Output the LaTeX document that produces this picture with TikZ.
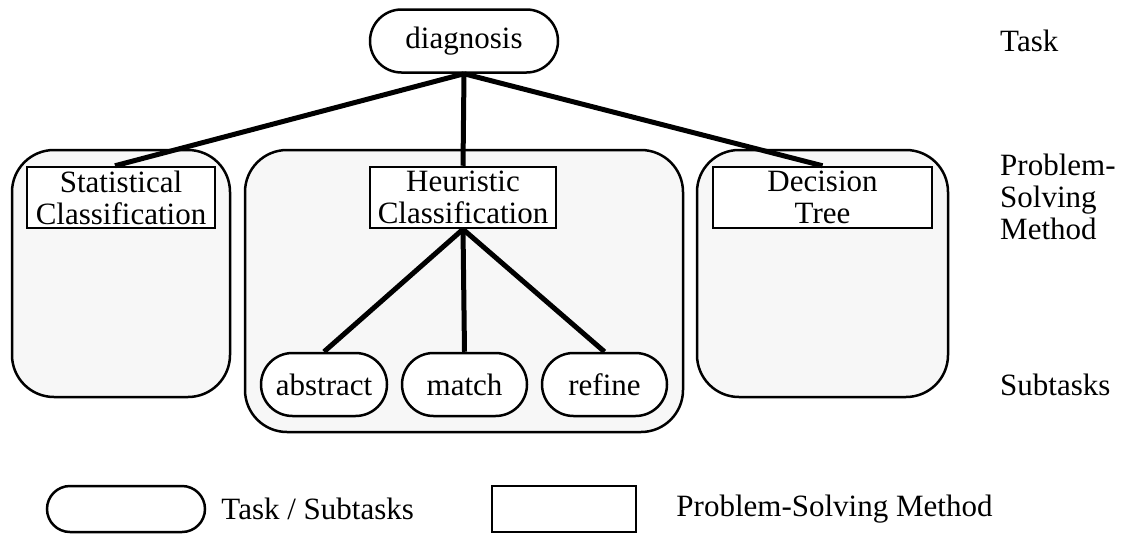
\documentclass[tikz,border=0pt]{standalone}
\usepackage{fontspec}
\setmainfont{Liberation Serif}
\usetikzlibrary{shapes.misc,positioning}
\tikzset{
  task/.style={rounded rectangle,draw,line width=2.5pt,fill=white,minimum height=63pt,inner sep=0pt},
  psm/.style={rectangle,draw,line width=2.5pt,fill=white,minimum height=61pt,inner sep=0pt,align=center},
  panel/.style={rectangle,draw,line width=2.5pt,fill=panelgray,rounded corners=42pt},
  link/.style={line width=5pt},
  side/.style={anchor=west,inner sep=0pt,align=left}
}
\definecolor{panelgray}{HTML}{F7F7F7}
\begin{document}
\begin{tikzpicture}[x=1pt,y=-1pt,font=\fontsize{31}{32}\selectfont]
  \useasboundingbox (0,0) rectangle (1121,536);
  % panels behind the methods
  \node[panel,minimum width=218pt,minimum height=247pt] (pstat) at (121,273.5) {};
  \node[panel,minimum width=438pt,minimum height=282pt] (pheur) at (464,291) {};
  \node[panel,minimum width=251pt,minimum height=247pt] (pdec) at (822.5,273.5) {};
  % task
  \node[task,minimum width=188pt] (diag) at (464,41) {diagnosis};
  % methods
  \node[psm,minimum width=188pt] (stat) at (121,197.5) {Statistical\\Classification};
  \node[psm,minimum width=186pt] (heur) at (463,197.5) {Heuristic\\Classification};
  \node[psm,minimum width=219pt] (dec) at (822.5,197.5) {Decision\\Tree};
  % subtasks
  \node[task,minimum width=126pt] (abs) at (324,384.5) {abstract};
  \node[task,minimum width=125pt] (match) at (464.5,384.5) {match};
  \node[task,minimum width=125pt] (ref) at (604.5,384.5) {refine};
  \draw[link] (diag.south) -- ([xshift=-6pt]stat.north);
  \draw[link] (diag.south) -- (heur.north);
  \draw[link] (diag.south) -- (dec.north);
  \draw[link] (heur.south) -- (abs.north);
  \draw[link] (heur.south) -- (match.north);
  \draw[link] (heur.south) -- (ref.north);
  % level labels
  \node[side] (ltask) at (1000,41) {Task};
  \node[side] (lpsm) at (1000,197) {Problem-\\Solving\\Method};
  \node[side] (lsub) at (1000,385) {Subtasks};
  % legend
  \node[task,minimum width=158pt,minimum height=46pt] (legtask) at (126,509) {};
  \node[side,right=15pt of legtask] (legtasktxt) {Task / Subtasks};
  \node[psm,minimum width=144pt,minimum height=46pt] (legpsm) at (564,509) {};
  \node[side,right=39pt of legpsm] (legpsmtxt) {Problem-Solving Method};
\end{tikzpicture}
\end{document}
